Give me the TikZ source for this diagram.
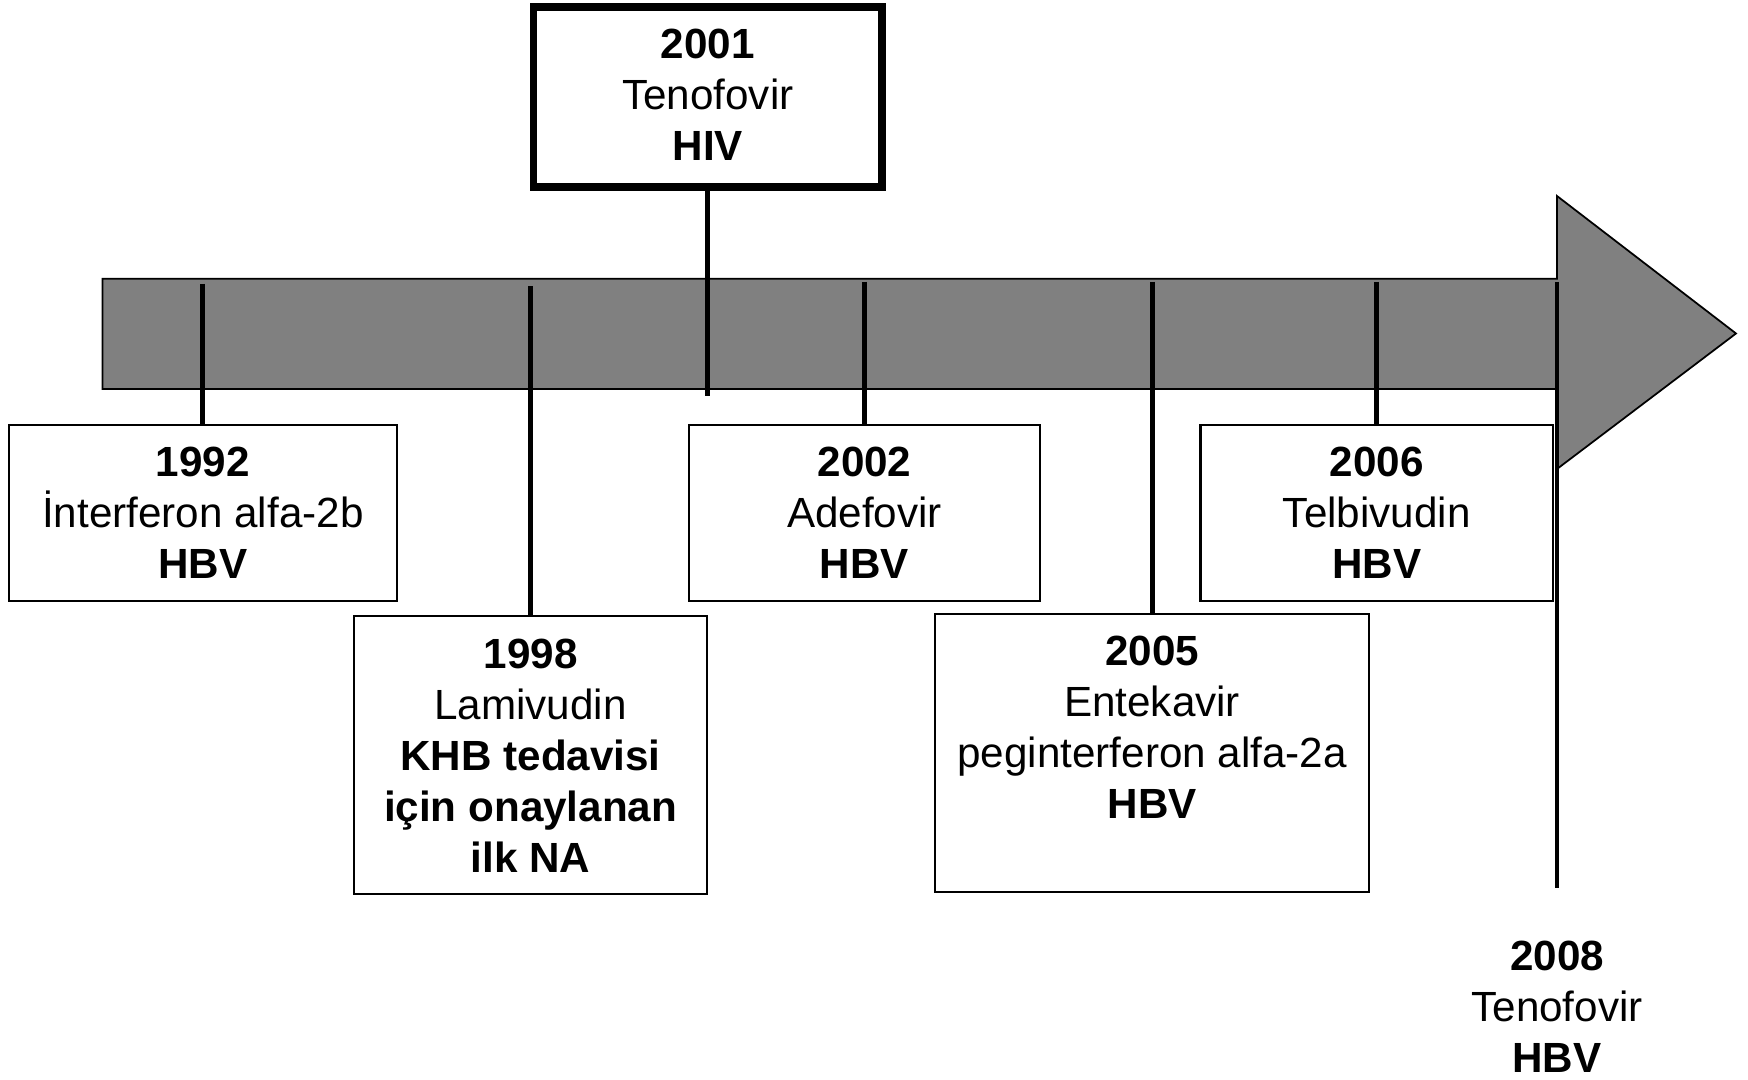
\documentclass[tikz,border=0pt]{standalone}
\usepackage{fontspec}
\setmainfont{Liberation Sans}

\begin{document}
\begin{tikzpicture}[x=0.01cm, y=-0.01cm,
font=\fontsize{12}{14.5}\selectfont,
yearbox/.style={draw=black, line width=0.6pt, fill=white, inner sep=0pt},
yeartext/.style={align=center, inner sep=0pt},
tick/.style={line width=1.4pt}
]
        \useasboundingbox (0,0) rectangle (1748,1080);

        % time arrow
        \draw [fill=black!50, line width=0.5pt] (102.6,278.7) -- (1557,278.7) -- (1557,196) -- (1736,333.5) -- (1557,469) -- (1557,389) -- (102.6,389) -- cycle;

        % line tops on the arrow
        \coordinate (t1992) at (202.9,284);
        \coordinate (t1998) at (530.6,286.5);
        \coordinate (e2001) at (707.8,396);
        \coordinate (t2002) at (864.5,282);
        \coordinate (t2005) at (1152.1,282);
        \coordinate (t2006) at (1376.7,282);
        \coordinate (t2008) at (1557,282);
        \coordinate (e2008) at (1557,888.5);

        \node [yearbox, minimum width=3.88cm, minimum height=1.762cm] (b1992) at (202.9,512.8) {};
        \node [yearbox, minimum width=3.523cm, minimum height=2.776cm] (b1998) at (530.6,755.3) {};
        \node [yearbox, line width=2.1pt, minimum width=3.48cm, minimum height=1.8cm] (b2001) at (707.8,97) {};
        \node [yearbox, minimum width=3.512cm, minimum height=1.762cm] (b2002) at (864.5,512.8) {};
        \node [yearbox, minimum width=4.337cm, minimum height=2.775cm] (b2005) at (1152.1,753) {};
        \node [yearbox, minimum width=3.523cm, minimum height=1.762cm] (b2006) at (1376.7,512.8) {};

        \node [yeartext] (n1992) at (b1992.center) {\textbf{1992}\\İnterferon alfa-2b\\\textbf{HBV}};
        \node [yeartext] (n1998) at (b1998.center) {\textbf{1998}\\Lamivudin\\\textbf{KHB tedavisi}\\\textbf{için onaylanan}\\\textbf{ilk NA}};
        \node [yeartext] (n2001) at (707.8,95) {\textbf{2001}\\Tenofovir\\\textbf{HIV}};
        \node [yeartext] (n2002) at (b2002.center) {\textbf{2002}\\Adefovir\\\textbf{HBV}};
        \node [yeartext] (n2005) at (1152.1,727.5) {\textbf{2005}\\Entekavir\\peginterferon alfa-2a\\\textbf{HBV}};
        \node [yeartext] (n2006) at (b2006.center) {\textbf{2006}\\Telbivudin\\\textbf{HBV}};
        \node [yeartext] (n2008) at (1557,1007) {\textbf{2008}\\Tenofovir\\\textbf{HBV}};

        \draw [tick] (t1992) -- (b1992);
        \draw [tick] (t1998) -- (b1998);
        \draw [tick] (b2001) -- (e2001);
        \draw [tick] (t2002) -- (b2002);
        \draw [tick] (t2005) -- (b2005);
        \draw [tick] (t2006) -- (b2006);
        \draw [tick] (t2008) -- (e2008);

\end{tikzpicture}
\end{document}
